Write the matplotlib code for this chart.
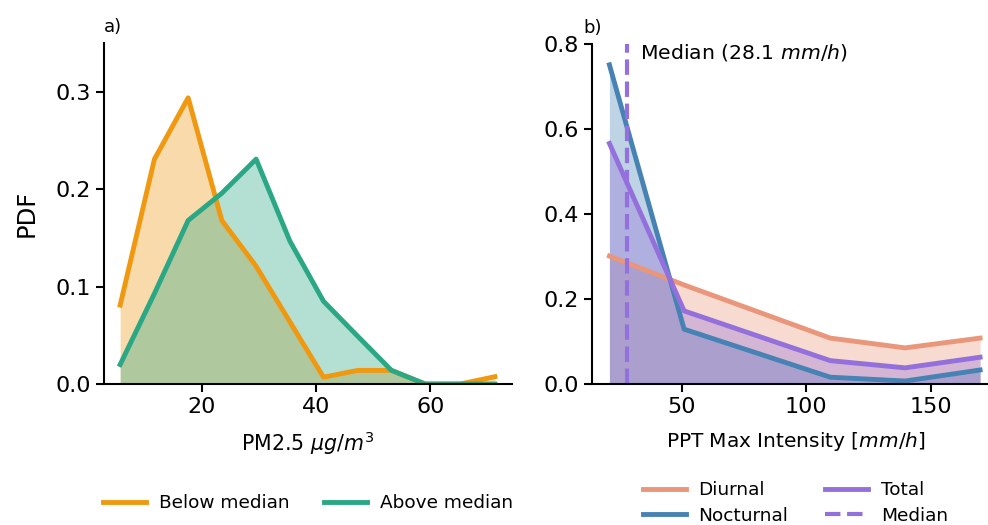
import matplotlib
matplotlib.use("Agg")
import matplotlib.pyplot as plt
from matplotlib.lines import Line2D

# PM2.5 distributions (panel a)
pm_bins = [5.7, 11.7, 17.6, 23.5, 29.5, 35.4, 41.3, 47.3, 53.2, 59.1, 65.2, 71.3]
pm_below = [0.081, 0.231, 0.294, 0.168, 0.121, 0.064, 0.007, 0.014, 0.014, 0.0, 0.0, 0.0075]
pm_above = [0.020, 0.093, 0.168, 0.196, 0.231, 0.147, 0.085, 0.049, 0.014, 0.0, 0.0, 0.0]

# Precipitation max intensity distributions (panel b)
ppt_bins = [20.9, 50.9, 109.6, 139.7, 169.8]
ppt_diurnal = [0.301, 0.233, 0.108, 0.085, 0.108]
ppt_nocturnal = [0.751, 0.129, 0.016, 0.007, 0.033]
ppt_total = [0.566, 0.172, 0.055, 0.038, 0.063]
ppt_median = 28.1

plt.rcParams['font.family'] = ['DejaVu Sans']
plt.rcParams['mathtext.fontset'] = 'dejavusans'

W, H = 988, 525
fig = plt.figure(figsize=(W / 100, H / 100), dpi=100)

def box(x0, x1, y0, y1):
    return [x0 / W, 1 - y1 / H, (x1 - x0) / W, (y1 - y0) / H]

ax1 = fig.add_axes(box(104, 512, 43.3, 384))
ax2 = fig.add_axes(box(592, 999, 44, 384))

orange = '#f0980f'
green = '#2aa784'
salmon = '#e9967a'
blue = '#4682b4'
purple = '#9370db'
lw = 3.5

# panel a
ax1.fill_between(pm_bins, pm_below, color=orange, alpha=0.35, lw=0)
ax1.fill_between(pm_bins, pm_above, color=green, alpha=0.35, lw=0)
ax1.plot(pm_bins, pm_below, color=orange, lw=lw)
ax1.plot(pm_bins, pm_above, color=green, lw=lw)
ax1.set_xlim(2.87, 74.3)
ax1.set_ylim(0, 0.35)
ax1.set_xticks([20, 40, 60])
ax1.set_yticks([0, 0.1, 0.2, 0.3])
ax1.set_xlabel(r'PM2.5 $\mu g/m^3$', fontsize=14.8, labelpad=9)
ax1.set_ylabel('PDF', fontsize=17.5, labelpad=12)
ax1.set_title('a)', loc='left', fontsize=13, pad=8, x=0.0)

h1 = [Line2D([], [], color=orange, lw=lw), Line2D([], [], color=green, lw=lw)]
ax1.legend(h1, ['Below median', 'Above median'], ncol=2, frameon=False,
           fontsize=13.3, loc='center', bbox_to_anchor=(0.5, -0.35),
           handlelength=2.3, handletextpad=0.7, columnspacing=1.9)

# panel b
ax2.fill_between(ppt_bins, ppt_diurnal, color=salmon, alpha=0.35, lw=0)
ax2.fill_between(ppt_bins, ppt_nocturnal, color=blue, alpha=0.35, lw=0)
ax2.fill_between(ppt_bins, ppt_total, color=purple, alpha=0.35, lw=0)
ax2.plot(ppt_bins, ppt_diurnal, color=salmon, lw=lw)
ax2.plot(ppt_bins, ppt_nocturnal, color=blue, lw=lw)
ax2.plot(ppt_bins, ppt_total, color=purple, lw=lw)
ax2.axvline(ppt_median, ymin=0, ymax=1, color=purple, lw=3, ls='--')
ax2.text(ppt_median + 5, 0.78, f'Median ({ppt_median} $mm/h$)', fontsize=14.7,
         va='center', ha='left')
ax2.set_xlim(13.9, 177.4)
ax2.set_ylim(0, 0.8)
ax2.set_xticks([50, 100, 150])
ax2.set_yticks([0, 0.2, 0.4, 0.6, 0.8])
ax2.set_xlabel(r'PPT Max Intensity [$mm/h$]', fontsize=14.5, labelpad=9)
ax2.set_title('b)', loc='left', fontsize=13, pad=8, x=-0.02)

h2 = [Line2D([], [], color=salmon, lw=lw), Line2D([], [], color=blue, lw=lw),
      Line2D([], [], color=purple, lw=lw), Line2D([], [], color=purple, lw=3, ls='--')]
ax2.legend(h2, ['Diurnal', 'Nocturnal', 'Total', 'Median'], ncol=2, frameon=False,
           fontsize=13.3, loc='center', bbox_to_anchor=(0.5, -0.35),
           handlelength=2.3, handletextpad=0.7, columnspacing=2.0, labelspacing=0.42)

for ax in (ax1, ax2):
    ax.spines['top'].set_visible(False)
    ax.spines['right'].set_visible(False)
    ax.spines['left'].set_linewidth(1.5)
    ax.spines['bottom'].set_linewidth(1.5)
    ax.tick_params(labelsize=16, width=1.5, length=6)

fig.savefig('out.png', dpi=100)
